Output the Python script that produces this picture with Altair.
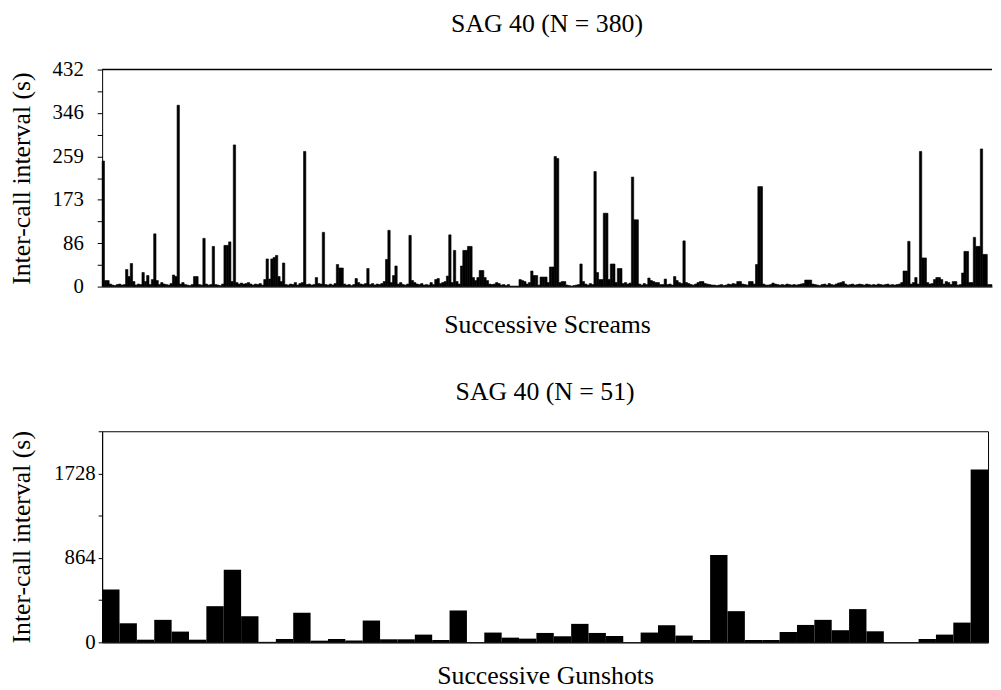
import altair as alt
import pandas as pd

FONT = "Liberation Serif"

# Inter-call intervals (s), successive screams (N = 380)
scream_values = [
    250, 12, 12, 5, 3, 2, 4, 5, 3, 4,
    34, 20, 46, 10, 3, 5, 4, 28, 10, 22,
    4, 14, 105, 12, 4, 8, 5, 4, 3, 6,
    23, 20, 361, 5, 8, 4, 3, 2, 4, 20,
    20, 4, 3, 96, 5, 3, 4, 80, 4, 3,
    2, 5, 82, 82, 89, 10, 282, 8, 5, 7,
    5, 6, 8, 5, 3, 5, 4, 6, 3, 14,
    55, 15, 55, 58, 62, 20, 10, 47, 4, 3,
    5, 4, 8, 3, 6, 8, 269, 4, 5, 3,
    4, 18, 6, 5, 108, 4, 3, 5, 3, 6,
    44, 37, 37, 5, 3, 4, 2, 4, 16, 8,
    5, 4, 6, 36, 4, 6, 3, 5, 4, 6,
    10, 54, 112, 8, 22, 41, 5, 8, 4, 3,
    5, 102, 12, 8, 5, 4, 6, 3, 4, 3,
    8, 4, 14, 16, 6, 8, 10, 21, 103, 8,
    72, 10, 5, 41, 72, 72, 80, 80, 18, 12,
    18, 32, 32, 18, 12, 5, 4, 5, 8, 6,
    3, 4, 2, 4, 1, 1, 1, 1, 14, 12,
    10, 5, 8, 31, 22, 22, 3, 19, 19, 19,
    8, 39, 39, 259, 255, 8, 10, 10, 3, 2,
    1, 2, 3, 4, 45, 10, 5, 3, 6, 4,
    229, 28, 14, 14, 146, 146, 14, 45, 45, 8,
    36, 36, 6, 8, 5, 7, 218, 133, 133, 5,
    3, 6, 4, 17, 12, 10, 8, 8, 4, 4,
    15, 4, 5, 3, 20, 12, 8, 6, 91, 8,
    6, 4, 3, 5, 8, 10, 10, 6, 5, 4,
    3, 3, 2, 3, 4, 2, 3, 5, 4, 6,
    5, 10, 10, 5, 4, 3, 10, 10, 5, 44,
    199, 199, 5, 3, 3, 4, 7, 5, 4, 3,
    4, 3, 5, 4, 3, 4, 3, 4, 5, 6,
    13, 13, 13, 5, 4, 3, 2, 4, 5, 3,
    6, 4, 3, 5, 7, 8, 10, 5, 3, 4,
    5, 3, 4, 5, 4, 3, 5, 4, 3, 4,
    3, 5, 4, 3, 4, 5, 3, 4, 3, 4,
    5, 8, 31, 31, 90, 5, 8, 18, 5, 269,
    57, 57, 8, 5, 6, 14, 18, 18, 14, 5,
    10, 8, 4, 10, 10, 3, 4, 27, 70, 70,
    8, 8, 98, 80, 80, 274, 64, 64, 4, 4,
]

# Inter-call intervals (s), successive gunshots (N = 51)
gunshot_values = [
    540, 195, 27, 230, 110, 27, 370, 744, 267, 5,
    34, 302, 17, 34, 20, 223, 31, 31, 79, 24,
    326, 0, 100, 48, 38, 96, 62, 189, 96, 65,
    0, 100, 175, 69, 24, 895, 319, 24, 24, 106,
    178, 230, 124, 340, 113, 0, 0, 34, 79, 202, 1768,
]

top_ticks = [0, 43.2, 86.4, 129.6, 172.8, 216, 259.2, 302.4, 345.6, 388.8, 432]
bottom_ticks = [0, 432, 864, 1296, 1728, 2160]

top_title = "SAG 40 (N = 380)"
bottom_title = "SAG 40 (N = 51)"
y_title = "Inter-call interval (s)"
top_x_title = "Successive Screams"
bottom_x_title = "Successive Gunshots"

df_s = pd.DataFrame({"i": list(range(len(scream_values))), "v": scream_values})
df_g = pd.DataFrame({"i": list(range(len(gunshot_values))), "v": gunshot_values})

TITLE_SIZE = 26


def x_axis(title, pad):
    return alt.Axis(
        title=title, labels=False, ticks=False, domain=True, domainColor="black",
        domainWidth=1, titleFont=FONT, titleFontSize=TITLE_SIZE, titleFontWeight="normal",
        titleColor="black", titlePadding=pad,
    )


top_y_axis = alt.Axis(
    values=top_ticks,
    labelExpr="abs(datum.value/86.4 - round(datum.value/86.4)) < 0.01 ? format(datum.value, '.0f') : ''",
    title=y_title, titleFont=FONT, titleFontSize=TITLE_SIZE, titleFontWeight="normal",
    titleColor="black", titleX=-73, titleBaseline="alphabetic", titleAngle=270,
    labelFont=FONT, labelFontSize=21, labelColor="black", labelPadding=14,
    tickSize=5, tickColor="black", domainColor="black", grid=False,
)

bottom_y_axis = alt.Axis(
    values=bottom_ticks,
    labelExpr="abs(datum.value/864 - round(datum.value/864)) < 0.01 ? format(datum.value, '.0f') : ''",
    title=y_title, titleFont=FONT, titleFontSize=TITLE_SIZE, titleFontWeight="normal",
    titleColor="black", titleX=-73, titleBaseline="alphabetic", titleAngle=270,
    labelFont=FONT, labelFontSize=21, labelColor="black", labelPadding=3,
    tickSize=4, tickColor="black", domainColor="black", grid=False,
)

top_bars = alt.Chart(df_s).mark_bar(color="black", stroke="black", strokeWidth=0.6).encode(
    x=alt.X("i:O", scale=alt.Scale(paddingInner=0, paddingOuter=0), axis=x_axis(top_x_title, 25)),
    y=alt.Y("v:Q", scale=alt.Scale(domain=[0, 432], nice=False, zero=True), axis=top_y_axis),
)
top_frame = alt.Chart(pd.DataFrame({"v": [432]})).mark_rule(color="black", strokeWidth=1.5).encode(
    y=alt.Y("v:Q", axis=top_y_axis)
)
top = alt.layer(top_bars, top_frame).properties(
    width=898, height=219,
    title=alt.TitleParams(top_title, font=FONT, fontSize=TITLE_SIZE, fontWeight="normal",
                          color="black", anchor="middle", frame="group", offset=22),
)

bottom_bars = alt.Chart(df_g).mark_bar(color="black").encode(
    x=alt.X("i:O", scale=alt.Scale(paddingInner=0, paddingOuter=0), axis=x_axis(bottom_x_title, 21)),
    y=alt.Y("v:Q", scale=alt.Scale(domain=[0, 2160], nice=False, zero=True), axis=bottom_y_axis),
)
bottom = alt.layer(bottom_bars).properties(
    width=894, height=213,
    view=alt.ViewBackground(stroke="black", strokeWidth=1),
    title=alt.TitleParams(bottom_title, font=FONT, fontSize=TITLE_SIZE, fontWeight="normal",
                          color="black", anchor="middle", frame="group", offset=26),
)

chart = alt.vconcat(top, bottom, spacing=41).properties(
    padding={"left": 0, "top": 0, "right": 0, "bottom": 0},
    background="white",
).configure_view(stroke=None)

chart.save("out.html", embed_options={"renderer": "svg", "actions": False})
